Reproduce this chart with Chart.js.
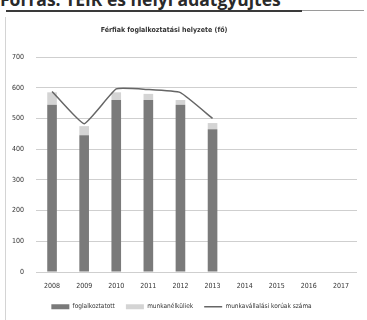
<!DOCTYPE html>
<html>
<head>
<meta charset="utf-8">
<script src="https://cdn.jsdelivr.net/npm/chart.js@4/dist/chart.umd.min.js"></script>
<style>
  html, body { margin: 0; padding: 0; background: #fff; }
  body { width: 367px; height: 320px; position: relative; overflow: hidden; }
  #src {
    position: absolute; left: 0px; top: -13px;
    font: bold 17.5px "Open Sans", "DejaVu Sans", sans-serif;
    color: #2a2a2a; white-space: nowrap;
  }
  #rule { position: absolute; left: 6px; top: 10px; width: 296px; height: 2px; background: #3a3a3a; }
  #rule2 { position: absolute; left: 302px; top: 10px; width: 62px; height: 1px; background: #9a9a9a; }
  #frame { position: absolute; left: 5px; top: 17px; width: 1px; height: 303px; background: #d4d4d4; }
  #wrap { position: absolute; left: 6px; top: 16px; width: 361px; height: 304px; }
</style>
</head>
<body>
<div id="src">Forrás: TEIR és helyi adatgyűjtés</div>
<div id="rule"></div>
<div id="rule2"></div>
<div id="frame"></div>
<div id="wrap"><canvas id="c" width="361" height="304"></canvas></div>
<script>
// Férfiak foglalkoztatási helyzete, 2008–2017 (fő)
const years = ['2008', '2009', '2010', '2011', '2012', '2013', '2014', '2015', '2016', '2017'];
const foglalkoztatott = [545, 445, 560, 560, 545, 465, null, null, null, null];
const munkanelkuli = [40, 30, 25, 20, 15, 20, null, null, null, null];
const munkavallalasiKoruak = [588, 483, 596, 594, 584, 500, null, null, null, null];
const yTicks = [0, 100, 200, 300, 400, 500, 600, 700];
const chartTitle = 'Férfiak foglalkoztatási helyzete (fő)';

const FONT = '"DejaVu Sans Condensed", "Liberation Sans Narrow", sans-serif';

// Title drawn at a fixed offset above the plot
const titlePlugin = {
  id: 'fixedTitle',
  afterDraw(chart) {
    const ctx = chart.ctx;
    ctx.save();
    ctx.font = 'bold 7px ' + FONT;
    ctx.fillStyle = '#333';
    ctx.textAlign = 'center';
    ctx.textBaseline = 'middle';
    ctx.fillText(chartTitle, 158, 14);
    ctx.restore();
  }
};

new Chart(document.getElementById('c'), {
  data: {
    labels: years,
    datasets: [
      {
        type: 'bar',
        label: 'foglalkoztatott',
        data: foglalkoztatott,
        backgroundColor: '#7a7a7a',
        stack: 's',
        pointStyle: 'rect',
        order: 1
      },
      {
        type: 'bar',
        label: 'munkanélküliek',
        data: munkanelkuli,
        backgroundColor: '#d4d4d4',
        stack: 's',
        pointStyle: 'rect',
        order: 1
      },
      {
        type: 'line',
        label: 'munkavállalási korúak száma',
        data: munkavallalasiKoruak,
        borderColor: '#666666',
        backgroundColor: '#666666',
        borderWidth: 1.5,
        pointRadius: 0,
        tension: 0.12,
        pointStyle: 'line',
        order: 0
      }
    ]
  },
  options: {
    responsive: false,
    animation: false,
    devicePixelRatio: 1,
    layout: { padding: { top: 41, left: 0, right: 10, bottom: 0 } },
    datasets: { bar: { barPercentage: 0.6, categoryPercentage: 0.5 } },
    scales: {
      x: {
        stacked: true,
        grid: { display: false },
        border: { display: false },
        ticks: { font: { family: FONT, size: 7 }, color: '#333', padding: 2, maxRotation: 0 }
      },
      y: {
        stacked: true,
        min: 0, max: 700,
        afterBuildTicks(scale) { scale.ticks = yTicks.map(v => ({ value: v })); },
        afterFit(scale) { scale.width = 30; },
        grid: { color: '#cfcfcf', lineWidth: 1, drawTicks: false },
        border: { display: false },
        ticks: { font: { family: FONT, size: 7 }, color: '#333', padding: 12 }
      }
    },
    plugins: {
      title: { display: false },
      tooltip: { enabled: false },
      legend: {
        position: 'bottom',
        labels: {
          usePointStyle: true,
          pointStyleWidth: 18,
          boxHeight: 5,
          padding: 11,
          font: { family: FONT, size: 6.5 },
          color: '#333',
          sort: (a, b) => a.datasetIndex - b.datasetIndex
        }
      }
    }
  },
  plugins: [titlePlugin]
});
</script>
</body>
</html>
